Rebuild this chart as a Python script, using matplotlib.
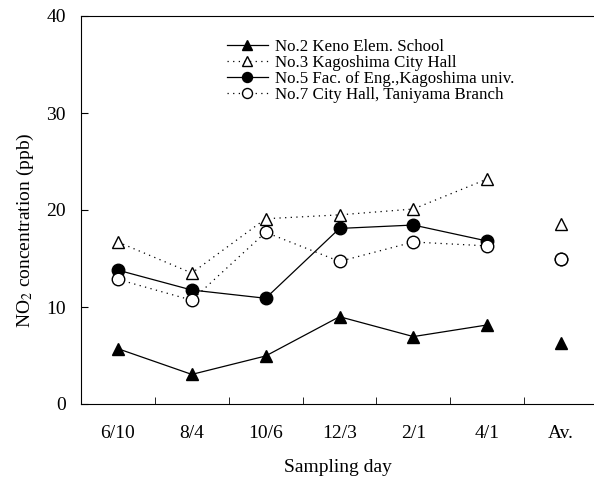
import matplotlib
matplotlib.use('Agg')
import matplotlib.pyplot as plt

days = ['6/10', '8/4', '10/6', '12/3', '2/1', '4/1', 'Av.']

no2 = [5.7, 3.05, 4.95, 9.0, 6.95, 8.15]
no3 = [16.7, 13.5, 19.1, 19.5, 20.1, 23.2]
no5 = [13.8, 11.75, 10.9, 18.1, 18.45, 16.8]
no7 = [12.85, 10.7, 17.7, 14.7, 16.7, 16.3]

# averages (last column)
av2 = 6.3
av3 = 18.6
av5 = 14.95
av7 = 14.9

plt.rcParams['font.family'] = ['Liberation Serif', 'DejaVu Serif']
plt.rcParams['mathtext.fontset'] = 'stix'

fig = plt.figure(figsize=(5.94, 4.79), dpi=100)
ax = fig.add_axes([81 / 594, 1 - 404 / 479, 1 - 81 / 594, 388 / 479])

x = list(range(6))
ms = 9
dots = (1, 3.5)
ax.plot(x, no2, '-', color='k', lw=0.9, marker='^', ms=ms, mfc='k', mec='k',
        label='No.2 Keno Elem. School')
ax.plot(x, no3, color='k', lw=0.9, dashes=dots, marker='^', ms=ms, mfc='white', mec='k',
        label='No.3 Kagoshima City Hall')
ax.plot(x, no5, '-', color='k', lw=0.9, marker='o', ms=ms, mfc='k', mec='k',
        label='No.5 Fac. of Eng.,Kagoshima univ.')
ax.plot(x, no7, color='k', lw=0.9, dashes=dots, marker='o', ms=ms, mfc='white', mec='k',
        label='No.7 City Hall, Taniyama Branch')

ax.plot([6], [av2], ls='none', marker='^', ms=ms, mfc='k', mec='k')
ax.plot([6], [av3], ls='none', marker='^', ms=ms, mfc='white', mec='k')
ax.plot([6], [av5], ls='none', marker='o', ms=ms, mfc='k', mec='k')
ax.plot([6], [av7], ls='none', marker='o', ms=ms, mfc='white', mec='k')

ax.set_ylim(0, 40)
ax.set_xlim(-0.5, 6.5 - 4 / 73.7)
ax.set_yticks([0, 10, 20, 30, 40])
ax.set_xticks(range(7))
ax.set_xticklabels(days)
ax.set_xticks([i + 0.5 for i in range(6)], minor=True)
ax.tick_params(axis='x', which='major', length=0, pad=15, labelsize=14)
ax.tick_params(axis='x', which='minor', direction='in', length=5)
ax.tick_params(axis='y', direction='in', length=5, pad=11, labelsize=14)
ax.spines['right'].set_visible(False)

ax.set_xlabel('Sampling day', fontsize=14, labelpad=12)
ax.set_ylabel('NO$_2$ concentration (ppb)', fontsize=14)
ax.yaxis.set_label_coords(-0.088, 0.448)

leg = ax.legend(loc='upper left', bbox_to_anchor=(0.255, 0.981), frameon=False,
                fontsize=12.2, handlelength=2.4, labelspacing=0.0,
                handletextpad=0.4, markerscale=0.8)

fig.savefig('out.png', dpi=100)
